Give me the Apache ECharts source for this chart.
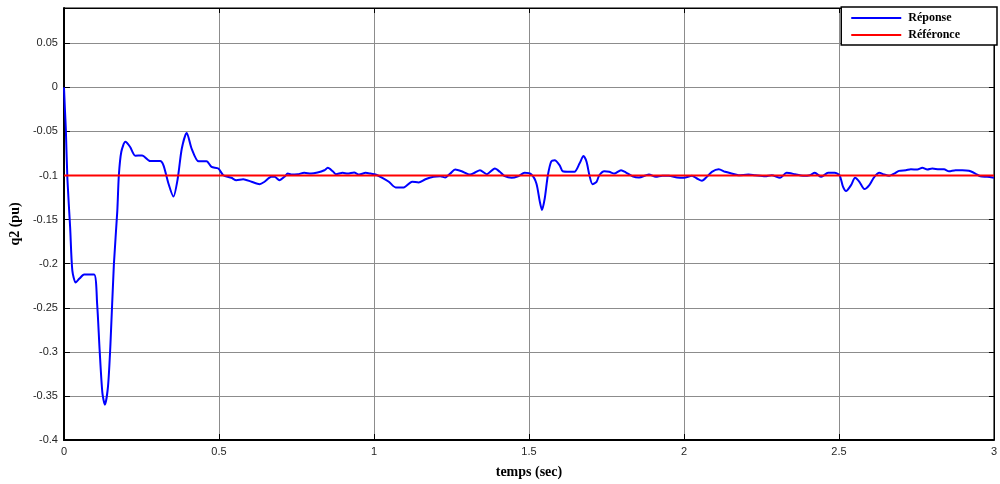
<!DOCTYPE html>
<html>
<head>
<meta charset="utf-8">
<script src="https://cdn.jsdelivr.net/npm/echarts@6/dist/echarts.min.js"></script>
<style>html,body{margin:0;padding:0;background:#fff}#c{width:1000px;height:484px}</style>
</head>
<body>
<div id="c"></div>
<script>
const timeSec = [0,0.003,0.006,0.011,0.020,0.027,0.038,0.050,0.065,0.097,0.107,0.115,0.124,0.132,0.142,0.150,0.161,0.172,0.177,0.185,0.198,0.213,0.230,0.252,0.278,0.310,0.321,0.337,0.353,0.367,0.380,0.396,0.412,0.434,0.460,0.476,0.498,0.514,0.540,0.556,0.578,0.605,0.631,0.647,0.669,0.679,0.695,0.711,0.722,0.733,0.754,0.775,0.797,0.818,0.840,0.851,0.867,0.877,0.899,0.915,0.936,0.952,0.973,0.989,1.005,1.027,1.048,1.070,1.096,1.123,1.144,1.166,1.192,1.214,1.230,1.246,1.262,1.283,1.310,1.326,1.342,1.364,1.390,1.406,1.422,1.444,1.465,1.486,1.508,1.524,1.535,1.542,1.551,1.561,1.572,1.583,1.599,1.609,1.631,1.647,1.663,1.676,1.686,1.695,1.705,1.718,1.727,1.743,1.759,1.775,1.797,1.813,1.834,1.855,1.887,1.909,1.930,1.951,1.978,2.000,2.026,2.042,2.058,2.074,2.090,2.112,2.133,2.154,2.176,2.208,2.229,2.262,2.283,2.310,2.331,2.358,2.384,2.406,2.422,2.443,2.465,2.486,2.502,2.513,2.523,2.539,2.552,2.566,2.582,2.598,2.612,2.630,2.646,2.662,2.678,2.694,2.716,2.732,2.753,2.769,2.785,2.801,2.823,2.839,2.855,2.876,2.898,2.919,2.940,2.956,2.978,3.000];
const reponse = [0,-0.0247,-0.0472,-0.1034,-0.1596,-0.2079,-0.2213,-0.2169,-0.2124,-0.2124,-0.2457,-0.2978,-0.3469,-0.3599,-0.3393,-0.2907,-0.2008,-0.1404,-0.0997,-0.0730,-0.0618,-0.0674,-0.0775,-0.0772,-0.0835,-0.0835,-0.0884,-0.1090,-0.1239,-0.1034,-0.0697,-0.0517,-0.0697,-0.0839,-0.0839,-0.0902,-0.0921,-0.0997,-0.1026,-0.1053,-0.1042,-0.1071,-0.1098,-0.1071,-0.1015,-0.1015,-0.1053,-0.1015,-0.0978,-0.0989,-0.0985,-0.0970,-0.0978,-0.0966,-0.0940,-0.0913,-0.0952,-0.0985,-0.0970,-0.0978,-0.0966,-0.0989,-0.0970,-0.0978,-0.0989,-0.1026,-0.1071,-0.1135,-0.1135,-0.1071,-0.1079,-0.1042,-0.1015,-0.1008,-0.1022,-0.0978,-0.0933,-0.0952,-0.0989,-0.0966,-0.0940,-0.0985,-0.0921,-0.0958,-0.1008,-0.1026,-0.1008,-0.0970,-0.0989,-0.1090,-0.1296,-0.1390,-0.1258,-0.0997,-0.0839,-0.0828,-0.0884,-0.0952,-0.0958,-0.0958,-0.0865,-0.0779,-0.0846,-0.0997,-0.1098,-0.1071,-0.0997,-0.0952,-0.0958,-0.0978,-0.0940,-0.0966,-0.1008,-0.1022,-0.0989,-0.1015,-0.1003,-0.1003,-0.1022,-0.1026,-0.1003,-0.1034,-0.1060,-0.1015,-0.0958,-0.0929,-0.0958,-0.0978,-0.0997,-0.0989,-0.0997,-0.1008,-0.0997,-0.1026,-0.0970,-0.0985,-0.1003,-0.0997,-0.0970,-0.1015,-0.0970,-0.0970,-0.0997,-0.1127,-0.1176,-0.1109,-0.1026,-0.1071,-0.1154,-0.1109,-0.1026,-0.0970,-0.0989,-0.1003,-0.0978,-0.0947,-0.0940,-0.0929,-0.0933,-0.0913,-0.0933,-0.0921,-0.0929,-0.0929,-0.0952,-0.0940,-0.0940,-0.0947,-0.0978,-0.1008,-0.1015,-0.1026];
const refTime = [0, 3];
const reference = [-0.1, -0.1];
const xTicks = {min: 0, max: 3, interval: 0.5};
const yTicks = {min: -0.4, max: 0.09, interval: 0.05};

const chart = echarts.init(document.getElementById('c'), null, {renderer: 'canvas'});
const labelFont = {fontFamily: 'Liberation Sans, Arial, sans-serif', fontSize: 11, color: '#262626'};
const nameFont = {fontFamily: 'Liberation Serif, Times New Roman, serif', fontSize: 14, fontWeight: 'bold', color: '#000'};
chart.setOption({
  animation: false,
  backgroundColor: '#fff',
  grid: {left: 61, top: 8, width: 936, height: 435, show: true, borderColor: '#000', borderWidth: 1, backgroundColor: 'transparent'},
  legend: {
    right: 3, top: 7, orient: 'vertical', icon: 'rect',
    backgroundColor: '#fff', borderColor: '#000', borderWidth: 1.5, borderRadius: 0,
    padding: [5, 37, 4, 10], itemGap: 5, itemWidth: 50, itemHeight: 2,
    textStyle: {fontFamily: 'Liberation Serif, Times New Roman, serif', fontSize: 12, fontWeight: 'bold', color: '#000', padding: [0, 0, 0, 2]},
    data: ['Réponse', 'Référonce']
  },
  xAxis: [{
    type: 'value', min: xTicks.min, max: xTicks.max, interval: xTicks.interval,
    name: 'temps (sec)', nameLocation: 'middle', nameGap: 25, nameTextStyle: nameFont,
    axisLine: {show: true, onZero: false, lineStyle: {color: '#000', width: 2}},
    axisTick: {show: true, inside: true, length: 6, lineStyle: {color: '#000'}},
    axisLabel: Object.assign({margin: 6}, labelFont),
    splitLine: {show: true, lineStyle: {color: '#8c8c8c', width: 1}}
  }, {
    type: 'value', position: 'top', min: xTicks.min, max: xTicks.max, interval: xTicks.interval,
    axisLine: {show: true, onZero: false, lineStyle: {color: '#000', width: 1}},
    axisTick: {show: true, inside: true, length: 5, lineStyle: {color: '#000'}},
    axisLabel: {show: false}, splitLine: {show: false}
  }],
  yAxis: [{
    type: 'value', min: yTicks.min, max: yTicks.max, interval: yTicks.interval,
    name: 'q2 (pu)', nameLocation: 'middle', nameGap: 35, nameRotate: 90, nameTextStyle: nameFont,
    axisLine: {show: true, onZero: false, lineStyle: {color: '#000', width: 2}},
    axisTick: {show: true, inside: true, length: 6, lineStyle: {color: '#000'}},
    axisLabel: Object.assign({margin: 6, formatter: v => (v > 0.06 ? '' : String(Math.round(v * 100) / 100))}, labelFont),
    splitLine: {show: true, lineStyle: {color: '#8c8c8c', width: 1}}
  }, {
    type: 'value', position: 'right', min: yTicks.min, max: yTicks.max, interval: yTicks.interval,
    axisLine: {show: true, onZero: false, lineStyle: {color: '#000', width: 1}},
    axisTick: {show: true, inside: true, length: 5, lineStyle: {color: '#000'}},
    axisLabel: {show: false}, splitLine: {show: false}
  }],
  series: [{
    name: 'Réponse', type: 'line', symbol: 'none', smooth: 0.25,
    lineStyle: {color: '#0000ff', width: 2}, itemStyle: {color: '#0000ff'},
    data: timeSec.map((t, i) => [t, reponse[i]])
  }, {
    name: 'Référonce', type: 'line', symbol: 'none',
    lineStyle: {color: '#ff0000', width: 2}, itemStyle: {color: '#ff0000'},
    data: refTime.map((t, i) => [t, reference[i]])
  }]
});
</script>
</body>
</html>
